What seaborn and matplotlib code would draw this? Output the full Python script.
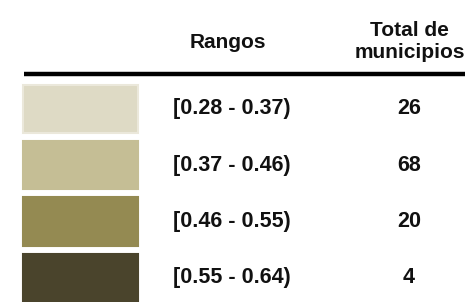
import matplotlib
matplotlib.use("Agg")
import matplotlib.pyplot as plt
import pandas as pd
import seaborn as sns

# Data
rangos = ["[0.28 - 0.37)", "[0.37 - 0.46)", "[0.46 - 0.55)", "[0.55 - 0.64)"]
totales = [26, 68, 20, 4]
colores = ["#DEDAC5", "#C5BE95", "#948A52", "#4A442C"]
bordes = ["#EBE8DB", "#C5BE95", "#948A52", "#4A442C"]
encabezados = ["Rangos", "Total de\nmunicipios"]

df = pd.DataFrame({"rango": rangos, "total": totales, "ancho": [115] * len(rangos)})

sns.set_theme(style="white")
plt.rcParams["font.family"] = ["Liberation Sans", "DejaVu Sans"]

fig = plt.figure(figsize=(4.65, 3.02), dpi=100)
ax = fig.add_axes([0, 0, 1, 1])

# Swatches as horizontal bars
sns.barplot(data=df, x="ancho", y="rango", hue="rango", palette=colores,
            saturation=1, legend=False, width=0.86, ax=ax, orient="h")
for bar, ec in zip(ax.patches, bordes):
    bar.set_edgecolor(ec)
    bar.set_linewidth(1.5)

ax.set_xlim(-23, 442)
ax.set_ylim(3.43, -1.93)
ax.axis("off")

# Range labels and totals
for i, (r, t) in enumerate(zip(rangos, totales)):
    ax.text(209, i, r, ha="center", va="center", fontsize=15.5, fontweight="bold", color="#111111")
    ax.text(386, i, str(t), ha="center", va="center", fontsize=15.5, fontweight="bold", color="#111111")

# Headers
ax.text(205, -1.18, encabezados[0], ha="center", va="center", fontsize=15, fontweight="bold", color="#111111")
ax.text(386.5, -1.20, encabezados[1], ha="center", va="center", fontsize=15, fontweight="bold",
        color="#111111", linespacing=1.2)

# Header rule
ax.plot([1, 442], [-0.62, -0.62], color="black", linewidth=3.2, solid_capstyle="butt")

fig.savefig("out.png", dpi=100, facecolor="white")
